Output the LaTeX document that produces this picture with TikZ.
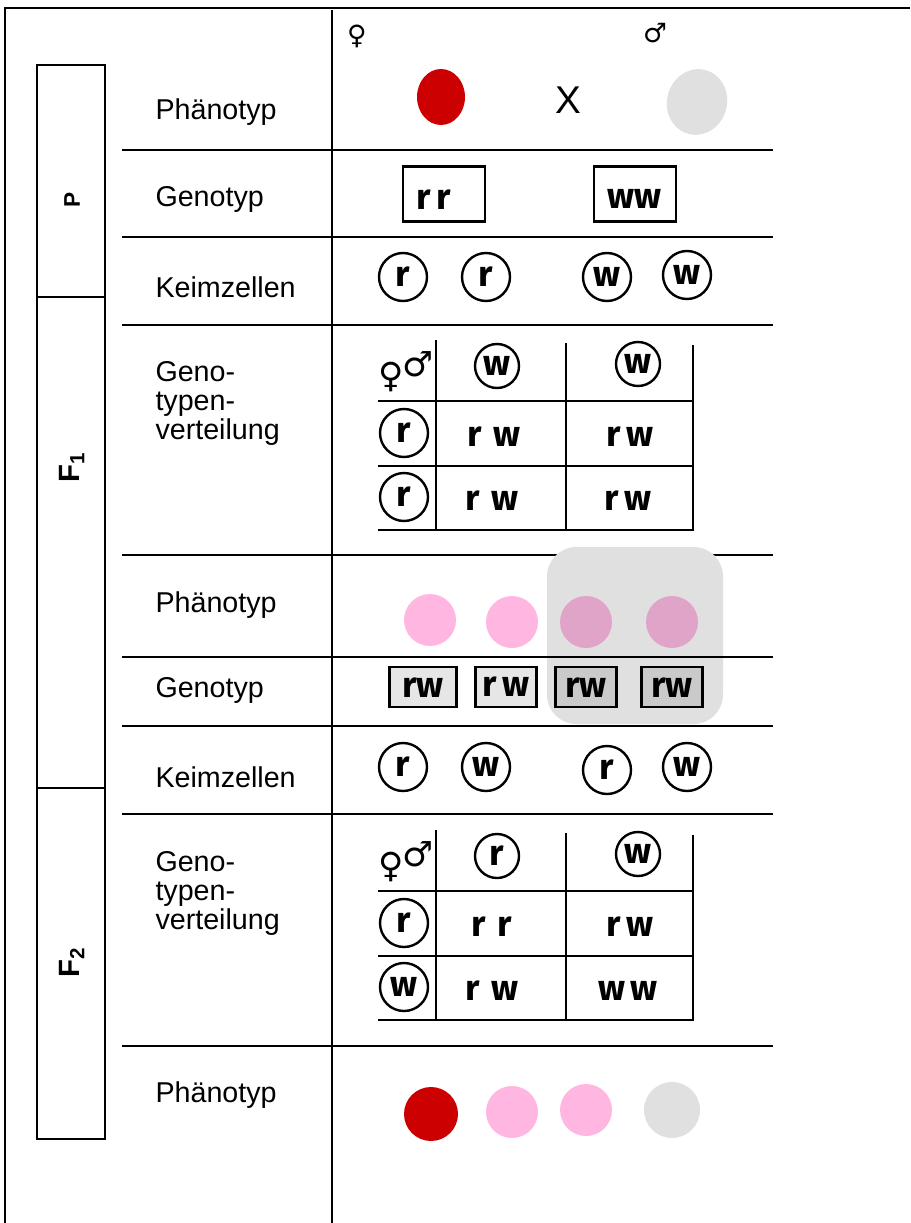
\documentclass[tikz,border=0pt]{standalone}
\usepackage{fontspec}
\setmainfont{Liberation Sans}
\newfontfamily\handfont{Fira Sans}
\newfontfamily\symfont{DejaVu Sans}

\definecolor{blobred}{RGB}{204,0,0}
\definecolor{blobgrey}{RGB}{224,224,224}
\definecolor{blobpink}{RGB}{255,182,225}
\definecolor{blobpinkdark}{RGB}{224,164,200}
\definecolor{boxgrey}{RGB}{230,230,230}
\definecolor{boxgreydark}{RGB}{202,202,202}
\definecolor{shadegrey}{RGB}{224,224,224}

\tikzset{every picture/.style={line width=0.75pt}}
\tikzset{
  frameline/.style={line width=2.2pt},
  rule/.style={line width=2pt},
  gridline/.style={line width=1.8pt},
  rowlabel/.style={anchor=west, inner sep=0.75pt, align=left, font=\fontsize{21.5}{21.75}\selectfont},
  genlabel/.style={rotate=90, inner sep=0.75pt, font=\bfseries\fontsize{17}{17}\selectfont},
  allele/.style={inner sep=0.75pt, font=\handfont\bfseries\fontsize{27}{27}\selectfont},
  gamete/.style={circle, draw, line width=1.8pt, minimum size=36pt, inner sep=0pt, allele},
  headgamete/.style={gamete, minimum size=33pt},
  genobox/.style={draw, line width=1.8pt, inner sep=0pt},
  sexsign/.style={inner sep=0pt, font=\symfont\fontsize{20}{20}\selectfont},
  cornersign/.style={inner sep=0pt, font=\symfont\fontsize{26}{26}\selectfont},
}

\begin{document}
\begin{tikzpicture}[x=0.75pt,y=0.75pt,yscale=-1,xscale=1]
\useasboundingbox (0,0) rectangle (910,1223);

%Straight Lines: outer frame and main divider
\draw [frameline] (5,1223) -- (5,8) -- (910,8) ;
\draw [frameline] (332,10) -- (332,1223) ;

%Shape: Rectangle - generation bar
\draw [rule] (37,65) rectangle (105,1139) ;
\draw [rule] (37,297) -- (105,297) ;
\draw [rule] (37,788) -- (105,788) ;

%Straight Lines: row separators
\draw [rule] (122,150) -- (773,150) ;
\draw [rule] (122,237) -- (773,237) ;
\draw [rule] (122,325) -- (773,325) ;
\draw [rule] (122,555) -- (773,555) ;
\draw [rule] (122,726) -- (773,726) ;
\draw [rule] (122,814) -- (773,814) ;
\draw [rule] (122,1046) -- (773,1046) ;

%Shape: Rounded Rectangle - shaded group
\fill [shadegrey,rounded corners=22pt] (547,547) rectangle (723,724) ;
\draw [rule] (122,657) -- (773,657) ;

% Text Node: generations
\node [genlabel] (genP) at (72,200) {P};
\node [genlabel, font=\bfseries\fontsize{22}{22}\selectfont] (genFa) at (72,467) {F\textsubscript{1}};
\node [genlabel, font=\bfseries\fontsize{22}{22}\selectfont] (genFb) at (72,962) {F\textsubscript{2}};

% Text Node: row labels
\node [rowlabel] (phenP) at (154,112) {Phänotyp};
\node [rowlabel] (genoP) at (154,199) {Genotyp};
\node [rowlabel] (keimP) at (154,287) {Keimzellen};
\node [rowlabel] (vertFa) at (154,403) {Geno-\\typen-\\verteilung};
\node [rowlabel] (phenFa) at (154,605) {Phänotyp};
\node [rowlabel] (genoFa) at (154,690) {Genotyp};
\node [rowlabel] (keimFa) at (154,777) {Keimzellen};
\node [rowlabel] (vertFb) at (154,893) {Geno-\\typen-\\verteilung};
\node [rowlabel] (phenFb) at (154,1095) {Phänotyp};

% Text Node: sexes
\node [sexsign] (femP) at (357,36) {♀};
\node [sexsign] (maleP) at (655,33) {♂};

%Shape: Ellipse - parents
\fill [blobred] (441,97) ellipse [x radius=24, y radius=28] ;
\fill [blobgrey, rotate around={15:(697,102)}] (697,102) ellipse [x radius=30, y radius=33] ;
\node [inner sep=0.75pt, font=\fontsize{29}{29}\selectfont] (crossP) at (568,100) {X};

%Shape: Rectangle - parental genotypes
\node [genobox, minimum width=61.5pt, minimum height=41pt] (boxPf) at (444,194) {};
\node [allele] (txtPf) at (434,200) {r\,r};
\node [genobox, minimum width=61.5pt, minimum height=41pt] (boxPm) at (635,194) {};
\node [allele] (txtPm) at (634,199) {ww};

%Shape: Circle - parental gametes
\node [gamete] (gPa) at (403,277) {r};
\node [gamete] (gPb) at (486,277) {r};
\node [gamete] (gPc) at (607,277) {w};
\node [gamete] (gPd) at (687,275) {w};

%Straight Lines: F1 grid
\draw [gridline] (436,340) -- (436,530) ;
\draw [gridline] (566,343) -- (566,530) ;
\draw [gridline] (693,345) -- (693,530) ;
\draw [gridline] (378,401) -- (694,401) ;
\draw [gridline] (378,466) -- (694,466) ;
\draw [gridline] (378,530) -- (694,530) ;

% Text Node: F1 grid corner
\node [cornersign] (cornerFa) at (406,372) {♀\kern-1pt\raisebox{8pt}{♂}};

%Shape: Circle - F1 grid gametes
\node [headgamete] (hFa) at (497,366) {w};
\node [headgamete] (hFb) at (638,364) {w};
\node [gamete] (rFa) at (404,433) {r};
\node [gamete] (rFb) at (404,497) {r};

% Text Node: F1 grid cells
\node [allele] (cFaa) at (494,437) {r\,\,w};
\node [allele] (cFab) at (630,437) {r\,w};
\node [allele] (cFba) at (492,501) {r\,\,w};
\node [allele] (cFbb) at (628,501) {r\,w};

%Shape: Ellipse - F1 phenotypes
\fill [blobpink] (430,620) circle [radius=26] ;
\fill [blobpink] (512,622) circle [radius=26] ;
\fill [blobpinkdark] (586,622) circle [radius=26] ;
\fill [blobpinkdark] (672,622) circle [radius=26] ;

%Shape: Rectangle - F1 genotypes
\node [genobox, fill=boxgrey, minimum width=50pt, minimum height=30pt] (bFa) at (423,687) {};
\node [allele] (tFa) at (423,688) {rw};
\node [genobox, fill=boxgrey, minimum width=46pt, minimum height=30pt] (bFb) at (506,687) {};
\node [allele] (tFb) at (506,687) {r\,w};
\node [genobox, fill=boxgreydark, minimum width=46pt, minimum height=30pt] (bFc) at (586,687) {};
\node [allele] (tFc) at (586,688) {rw};
\node [genobox, fill=boxgreydark, minimum width=46pt, minimum height=30pt] (bFd) at (672,687) {};
\node [allele] (tFd) at (672,688) {rw};

%Shape: Circle - F1 gametes
\node [gamete] (gFa) at (403,767) {r};
\node [gamete] (gFb) at (486,767) {w};
\node [gamete] (gFc) at (607,770) {r};
\node [gamete] (gFd) at (687,767) {w};

%Straight Lines: F2 grid
\draw [gridline] (436,830) -- (436,1020) ;
\draw [gridline] (566,833) -- (566,1020) ;
\draw [gridline] (693,835) -- (693,1020) ;
\draw [gridline] (378,891) -- (694,891) ;
\draw [gridline] (378,956) -- (694,956) ;
\draw [gridline] (378,1020) -- (694,1020) ;

% Text Node: F2 grid corner
\node [cornersign] (cornerFb) at (406,862) {♀\kern-1pt\raisebox{8pt}{♂}};

%Shape: Circle - F2 grid gametes
\node [headgamete] (hFc) at (497,856) {r};
\node [headgamete] (hFd) at (638,854) {w};
\node [gamete] (rFc) at (404,923) {r};
\node [gamete] (rFd) at (404,987) {w};

% Text Node: F2 grid cells
\node [allele] (cFcc) at (492,927) {r\,\,r};
\node [allele] (cFcd) at (630,927) {r\,w};
\node [allele] (cFdc) at (492,991) {r\,\,w};
\node [allele] (cFdd) at (628,991) {w\,w};

%Shape: Ellipse - F2 phenotypes
\fill [blobred] (431,1114) circle [radius=27] ;
\fill [blobpink] (512,1112) circle [radius=26] ;
\fill [blobpink] (586,1110) circle [radius=26] ;
\fill [blobgrey] (672,1110) circle [radius=28] ;

\end{tikzpicture}
\end{document}
